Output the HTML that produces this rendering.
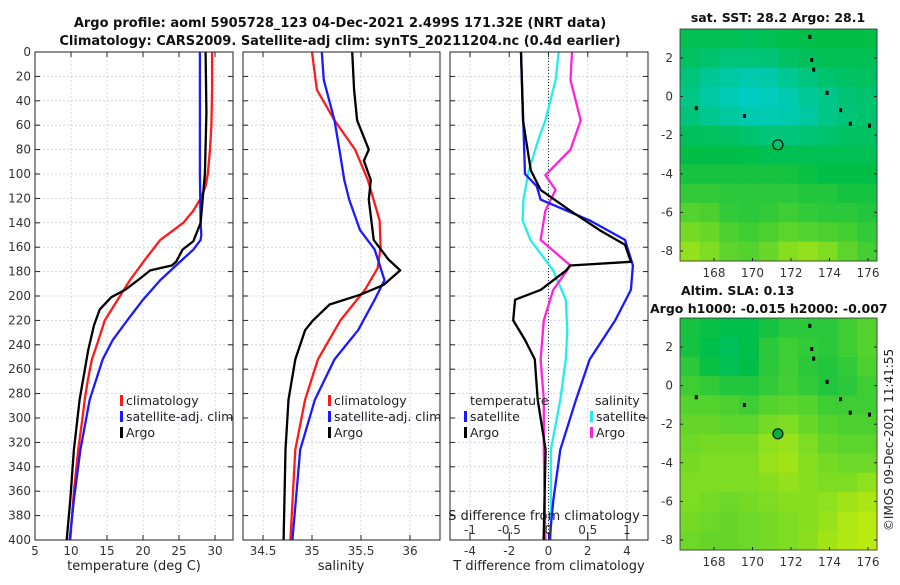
<!DOCTYPE html>
<html><head><meta charset="utf-8">
<style>
body{margin:0;background:#fff;font-family:"Liberation Sans","DejaVu Sans",sans-serif;}
svg text{font-family:"DejaVu Sans","Liberation Sans",sans-serif;}
</style></head>
<body>
<svg id="fig" width="900" height="580" viewBox="0 0 900 580" xmlns="http://www.w3.org/2000/svg">
<text x="340" y="27" text-anchor="middle" font-size="13" font-weight="bold" fill="#111">Argo profile: aoml 5905728_123 04-Dec-2021 2.499S 171.32E (NRT data)</text>
<text x="340" y="45" text-anchor="middle" font-size="13" font-weight="bold" fill="#111">Climatology: CARS2009. Satellite-adj clim: synTS_20211204.nc (0.4d earlier)</text>
<text x="778" y="22" text-anchor="middle" font-size="12.5" font-weight="bold" fill="#111">sat. SST: 28.2 Argo: 28.1</text>
<text x="681" y="295" font-size="12.5" font-weight="bold" fill="#111">Altim. SLA: 0.13</text>
<text x="650" y="313" font-size="12.5" font-weight="bold" fill="#111">Argo h1000: -0.015 h2000: -0.007</text>
<text transform="translate(893,440) rotate(-90)" text-anchor="middle" font-size="12" fill="#222">©IMOS 09-Dec-2021 11:41:55</text>
<g id="layer"></g>
</svg>
<script>
// ---- data ----
const depths = [0,20,40,60,80,100,120,140,160,180,200,220,240,260,280,300,320,340,360,380,400];
const depthTicks = [0,20,40,60,80,100,120,140,160,180,200,220,240,260,280,300,320,340,360,380,400];
const tempTicks = [5,10,15,20,25,30];
const salTicks = [34.5,35,35.5,36];
const tdiffTicks = [-4,-2,0,2,4];
const sdiffTicks = [-1,-0.5,0,0.5,1];

const tClimD = [0,30,60,80,100,110,120,130,140,154,170,187,200,220,240,252,270,285,300,326,360,400];
const tClim  = [29.6,29.6,29.5,29.3,29,28.7,28,27,25.6,22.4,20.3,18.2,16.8,14.7,13.6,12.9,12.3,11.9,11.6,11,10.4,9.9];
const tSatD = [0,50,100,140,150,154,162,170,187,203,220,236,252,285,326,367,400];
const tSat  = [27.9,27.9,27.9,28,28.1,28,27,25.5,22.4,20,17.8,15.8,14.4,12.6,11.3,10.4,9.8];
const tArgoD = [0,50,100,140,155,162,172,175,179,187,195,201,211,224,244,285,326,367,400];
const tArgo  = [28.7,28.8,28.6,28,27,25.5,24.6,24,21,19.3,17.5,15.6,14,13.2,12.4,11.2,10.4,9.9,9.4];

const sClimD = [0,31,56,80,105,138,160,177,195,220,252,285,326,400];
const sClim  = [35.0,35.05,35.23,35.44,35.57,35.69,35.7,35.67,35.54,35.29,35.06,34.93,34.83,34.78];
const sSatD = [0,23,56,80,105,121,146,162,187,203,228,252,285,326,400];
const sSat  = [35.1,35.12,35.23,35.28,35.33,35.38,35.49,35.64,35.74,35.64,35.47,35.23,35.03,34.88,34.8];
const sArgoD = [0,31,56,80,89,105,121,154,170,179,191,199,207,220,228,252,285,326,400];
const sArgo  = [35.41,35.43,35.46,35.58,35.53,35.6,35.58,35.63,35.78,35.9,35.73,35.49,35.18,35.01,34.93,34.83,34.76,34.73,34.71];

const dTSatD = [0,100,110,121,138,154,175,195,220,252,285,326,367,400];
const dTSat  = [-1.4,-1.2,-0.6,-0.4,2.1,3.9,4.3,4.2,3.4,2.1,1.4,0.6,0.25,0.05];
const dTArgoD = [0,56,97,113,130,146,158,172,175,179,195,203,220,236,252,285,326,400];
const dTArgo  = [-1.4,-1.3,-0.9,-0.4,1.1,2.6,3.9,4.2,1.1,0.9,-0.4,-1.7,-1.8,-1.2,-0.7,-0.55,-0.15,-0.25];
const dSSatD = [0,23,56,72,97,121,138,154,179,203,228,252,285,326,400];
const dSSat  = [0.13,0.09,-0.04,-0.13,-0.25,-0.32,-0.33,-0.23,0.06,0.22,0.24,0.22,0.15,0.03,0.03];
const dSArgoD = [0,23,56,80,101,113,130,154,175,195,220,252,285,326,400];
const dSArgo  = [0.3,0.28,0.41,0.28,-0.04,0.09,-0.04,-0.1,0.28,0.06,-0.06,-0.1,-0.06,-0.06,-0.04];

const sstField = [
 [0.45,0.45,0.45,0.42,0.45,0.48,0.5,0.5,0.5,0.5],
 [0.4,0.35,0.3,0.3,0.32,0.38,0.42,0.45,0.45,0.45],
 [0.3,0.2,0.15,0.1,0.12,0.2,0.28,0.35,0.38,0.4],
 [0.25,0.15,0.08,0.02,0.05,0.1,0.18,0.25,0.32,0.35],
 [0.3,0.22,0.15,0.1,0.08,0.1,0.15,0.25,0.3,0.35],
 [0.42,0.4,0.38,0.35,0.3,0.3,0.32,0.35,0.38,0.4],
 [0.5,0.5,0.5,0.48,0.45,0.45,0.45,0.45,0.45,0.45],
 [0.55,0.55,0.55,0.55,0.55,0.55,0.52,0.5,0.5,0.5],
 [0.62,0.62,0.6,0.6,0.6,0.6,0.58,0.58,0.55,0.55],
 [0.7,0.68,0.62,0.6,0.62,0.65,0.62,0.6,0.6,0.58],
 [0.78,0.75,0.68,0.65,0.68,0.72,0.7,0.68,0.66,0.62],
 [0.85,0.8,0.72,0.7,0.75,0.82,0.85,0.8,0.72,0.66]];
const slaField = [
 [0.55,0.52,0.48,0.48,0.55,0.6,0.6,0.6,0.65,0.7],
 [0.55,0.48,0.42,0.48,0.6,0.65,0.62,0.6,0.65,0.7],
 [0.6,0.52,0.45,0.5,0.6,0.65,0.6,0.58,0.62,0.68],
 [0.65,0.62,0.58,0.58,0.62,0.66,0.62,0.58,0.6,0.65],
 [0.7,0.7,0.68,0.65,0.7,0.72,0.7,0.65,0.65,0.65],
 [0.74,0.74,0.72,0.72,0.78,0.8,0.75,0.7,0.68,0.68],
 [0.76,0.78,0.78,0.78,0.84,0.86,0.8,0.74,0.72,0.72],
 [0.78,0.8,0.8,0.8,0.86,0.88,0.82,0.78,0.76,0.76],
 [0.8,0.8,0.8,0.8,0.82,0.85,0.82,0.8,0.8,0.84],
 [0.8,0.78,0.76,0.78,0.8,0.82,0.82,0.84,0.88,0.9],
 [0.78,0.76,0.74,0.76,0.78,0.8,0.82,0.86,0.92,0.94],
 [0.76,0.74,0.74,0.76,0.78,0.8,0.83,0.88,0.92,0.94]];
const latTicks = [2,0,-2,-4,-6,-8];
const lonTicks = [168,170,172,174,176];
const argoLon = 171.32, argoLat = -2.499;

// ---- drawing ----
const NS='http://www.w3.org/2000/svg';
const layer=document.getElementById('layer');
function el(tag,attrs,parent){const e=document.createElementNS(NS,tag);for(const k in attrs)e.setAttribute(k,attrs[k]);(parent||layer).appendChild(e);return e;}
const Y0=52,Y1=540;
const yD=d=>Y0+(d/400)*(Y1-Y0);
function lin(d0,d1,r0,r1){return v=>r0+(v-d0)/(d1-d0)*(r1-r0);}

function panel(x0,x1,xs,xticks,name,showY){
  const g=el('g',{});
  
  
  depthTicks.forEach(d=>{
    const l=el('line',{x1:x0,x2:x1,y1:yD(d),y2:yD(d),stroke:'#c8cce8','stroke-width':0.8,'stroke-dasharray':'2,2'},g);
    
    
    el('line',{x1:x0,x2:x0+5,y1:yD(d),y2:yD(d),stroke:'#222'},g);
    el('line',{x1:x1-5,x2:x1,y1:yD(d),y2:yD(d),stroke:'#222'},g);
    if(showY){const t=el('text',{x:x0-4,y:yD(d)+4,'text-anchor':'end','font-size':12,fill:'#333'},g);t.textContent=d;
      
      }
  });
  xticks.forEach(v=>{
    const x=xs(v);
    el('line',{x1:x,x2:x,y1:Y0,y2:Y1,stroke:'#c8cce8','stroke-width':0.8,'stroke-dasharray':'2,2'},g);
    el('line',{x1:x,x2:x,y1:Y1-5,y2:Y1,stroke:'#222'},g);
    el('line',{x1:x,x2:x,y1:Y0,y2:Y0+5,stroke:'#222'},g);
    const t=el('text',{x:x,y:Y1+15,'text-anchor':'middle','font-size':12,fill:'#333'},g);t.textContent=v;
    
    
  });
  return g;
}
function border(x0,x1,g){el('rect',{x:x0,y:Y0,width:x1-x0,height:Y1-Y0,fill:'none',stroke:'#222','stroke-width':1},g);}
function line(g,xs,vals,ds,color,name,w){
  const p=vals.map((v,i)=>xs(v).toFixed(1)+','+yD(ds[i]).toFixed(1)).join(' ');
  const l=el('polyline',{points:p,fill:'none',stroke:color,'stroke-width':w||2.3,'stroke-linejoin':'round'},g);
  
  
}
function txt(g,x,y,s,name,opts){const t=el('text',Object.assign({x:x,y:y,'font-size':12.5,fill:'#222'},opts||{}),g);t.textContent=s;
  
  return t;}
function legendItem(g,x,y,color,label,name){
  el('rect',{x:x,y:y-10,width:3,height:11,fill:color},g);
  txt(g,x+6,y,label,name);
}

// Panel 1
const xT=lin(5,30,35,215);
const g1=panel(35,233,xT,tempTicks,'temperature-panel',true);
line(g1,xT,tClim,tClimD,'#ff1a1a','temp-climatology-line');
line(g1,xT,tSat,tSatD,'#1a1aff','temp-satellite-line');
line(g1,xT,tArgo,tArgoD,'#000','temp-argo-line');
legendItem(g1,120,405,'#ff1a1a','climatology','legend-climatology');
legendItem(g1,120,421,'#1a1aff','satellite-adj. clim','legend-satellite');
legendItem(g1,120,437,'#000','Argo','legend-argo');
border(35,233,g1);
txt(g1,134,570,'temperature (deg C)','x-axis-title-temperature',{'text-anchor':'middle','font-size':13});

// Panel 2
const xS=lin(34.5,36,263,410);
const g2=panel(243,440,xS,salTicks,'salinity-panel',false);
line(g2,xS,sClim,sClimD,'#ff1a1a','sal-climatology-line');
line(g2,xS,sSat,sSatD,'#1a1aff','sal-satellite-line');
line(g2,xS,sArgo,sArgoD,'#000','sal-argo-line');
legendItem(g2,328,405,'#ff1a1a','climatology','legend-climatology');
legendItem(g2,328,421,'#1a1aff','satellite-adj. clim','legend-satellite');
legendItem(g2,328,437,'#000','Argo','legend-argo');
border(243,440,g2);
txt(g2,341,570,'salinity','x-axis-title-salinity',{'text-anchor':'middle','font-size':13});

// Panel 3
const xdT=lin(-4,4,470,627);
const xdS=lin(-1,1,470,627);
const g3=panel(450,648,xdT,tdiffTicks,'difference-panel',false);
el('line',{x1:xdT(0),x2:xdT(0),y1:Y0,y2:Y1,stroke:'#333','stroke-width':1,'stroke-dasharray':'1,2'},g3);
line(g3,xdS,dSSat,dSSatD,'#22eeee','sdiff-satellite-line');
line(g3,xdS,dSArgo,dSArgoD,'#ff22dd','sdiff-argo-line');
line(g3,xdT,dTSat,dTSatD,'#1a1aff','tdiff-satellite-line');
line(g3,xdT,dTArgo,dTArgoD,'#000','tdiff-argo-line');
txt(g3,470,405,'temperature','legend-temperature-header');
legendItem(g3,464,421,'#1a1aff','satellite','legend-t-satellite');
legendItem(g3,464,437,'#000','Argo','legend-t-argo');
txt(g3,595,405,'salinity','legend-salinity-header');
legendItem(g3,590,421,'#22eeee','satellite','legend-s-satellite');
legendItem(g3,590,437,'#ff22dd','Argo','legend-s-argo');
txt(g3,544,520,'S difference from climatology','s-axis-title',{'text-anchor':'middle','font-size':13});
sdiffTicks.forEach(v=>{txt(g3,xdS(v),534,String(v),'s-tick-label',{'text-anchor':'middle','font-size':12,fill:'#333'});
  el('line',{x1:xdS(v),x2:xdS(v),y1:Y1-8,y2:Y1,stroke:'#222'},g3);});
border(450,648,g3);
txt(g3,549,570,'T difference from climatology','x-axis-title-tdiff',{'text-anchor':'middle','font-size':13});

// Maps
function colorOf(v){
  let r,g,b;
  if(v<0.5){const t=v/0.5;r=0;g=205-15*t;b=200-130*t;}
  else{const t=(v-0.5)/0.5;r=210*t;g=190+50*t;b=70-60*t;}
  return 'rgb('+Math.round(r)+','+Math.round(g)+','+Math.round(b)+')';
}
function drawMap(field,top,name){
  const x0=680,x1=877,y0=top,y1=top+232;
  const lon=lin(168,176,714,868);
  const lat=lin(2,-8,top+29,top+222);
  const g=el('g',{});
  
  
  const rows=field.length,cols=field[0].length;
  const cw=(x1-x0)/cols,ch=(y1-y0)/rows;
  field.forEach((row,i)=>row.forEach((v,j)=>{
    const c=el('rect',{x:x0+j*cw,y:y0+i*ch,width:cw+0.5,height:ch+0.5,fill:colorOf(v)},g);
    
    
  }));
  latTicks.forEach(v=>{
    el('line',{x1:x0,x2:x0+3,y1:lat(v),y2:lat(v),stroke:'#222'},g);
    el('line',{x1:x1-3,x2:x1,y1:lat(v),y2:lat(v),stroke:'#222'},g);
    txt(g,x0-7,lat(v)+4,String(v),'lat-tick-label',{'text-anchor':'end','font-size':12,fill:'#333'});
  });
  lonTicks.forEach(v=>{
    el('line',{x1:lon(v),x2:lon(v),y1:y1-3,y2:y1,stroke:'#222'},g);
    txt(g,lon(v),y1+16,String(v),'lon-tick-label',{'text-anchor':'middle','font-size':12,fill:'#333'});
  });
  [[172.9,3.2],[173,2],[173.1,1.5],[173.8,0.3],[174.5,-0.6],[175.0,-1.3],[176,-1.4],[169.5,-0.9],[167,-0.5]].forEach(p=>{
    el('rect',{x:lon(p[0]),y:lat(p[1]),width:3,height:4,fill:'#000'},g);
  });
  const m=el('circle',{cx:lon(argoLon),cy:lat(argoLat),r:5,fill:name==='sla-map'?'#00b040':'none',stroke:'#111','stroke-width':1.2},g);
  
  
  el('rect',{x:x0,y:y0,width:x1-x0,height:y1-y0,fill:'none',stroke:'#333','stroke-width':0.8},g);
}
drawMap(sstField,29,'sst-map');
drawMap(slaField,318,'sla-map');
</script>
</body></html>
